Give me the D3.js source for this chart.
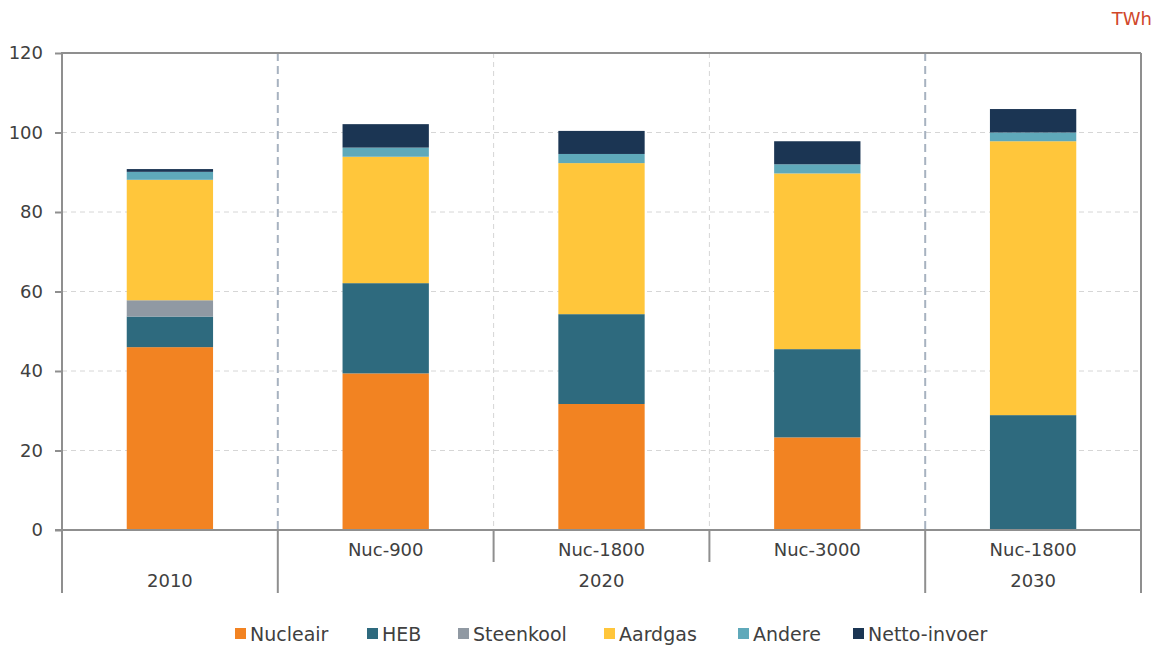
<!DOCTYPE html>
<html>
<head>
<meta charset="utf-8">
<script src="https://cdn.jsdelivr.net/npm/d3@7"></script>
<style>
  html, body { margin: 0; padding: 0; background: #fff; }
  svg { display: block; }
  text { font-family: "DejaVu Sans", sans-serif; fill: #404040; }
</style>
</head>
<body>
<svg id="chart" width="1159" height="646"></svg>
<script>
// ---- data ----
const subLabels = ["", "Nuc-900", "Nuc-1800", "Nuc-3000", "Nuc-1800"];
const groupLabels = ["2010", "2020", "2020", "2020", "2030"];
const seriesNames = ["Nucleair", "HEB", "Steenkool", "Aardgas", "Andere", "Netto-invoer"];
const nucleair    = [46.0, 39.4, 31.7, 23.3, 0];
const heb         = [7.7, 22.7, 22.6, 22.2, 28.9];
const steenkool   = [4.1, 0, 0, 0, 0];
const aardgas     = [30.3, 31.8, 38.0, 44.2, 68.9];
const andere      = [2.0, 2.3, 2.3, 2.3, 2.2];
const nettoInvoer = [0.7, 5.9, 5.8, 5.8, 5.9];
const yTicks = [0, 20, 40, 60, 80, 100, 120];
const unitLabel = "TWh";

const colors = ["#F28322", "#2E6A7E", "#9099A3", "#FFC63B", "#5FA9BA", "#1B3553"];
const seriesValues = [nucleair, heb, steenkool, aardgas, andere, nettoInvoer];

(function () {
const rows = subLabels.map((s, i) => {
  const r = { idx: i };
  seriesNames.forEach((n, k) => r[n] = seriesValues[k][i]);
  return r;
});

// ---- layout ----
const svg = d3.select("#chart");
const pLeft = 62, pRight = 1141, pTop = 53, zeroY = 530, pBottom = 593;
const axisColor = "#8f8f8f";

const x = d3.scaleBand().domain(rows.map(r => r.idx)).range([pLeft, pRight]).padding(0);
const y = d3.scaleLinear().domain([0, 120]).range([zeroY, pTop]);
const barW = x.bandwidth() * 0.4;

// horizontal grid
svg.append("g").selectAll("line").data(yTicks.filter(t => t > 0 && t < 120)).join("line")
  .attr("x1", pLeft).attr("x2", pRight)
  .attr("y1", d => y(d)).attr("y2", d => y(d))
  .attr("stroke", "#d6d6d6").attr("stroke-width", 1).attr("stroke-dasharray", "5,4");

const boundaries = d3.range(1, rows.length).map(i => ({ i, pos: x(i) }));
// vertical light grid between scenarios within same group
svg.append("g").selectAll("line")
  .data(boundaries.filter(b => groupLabels[b.i] === groupLabels[b.i - 1])).join("line")
  .attr("x1", d => d.pos).attr("x2", d => d.pos)
  .attr("y1", pTop).attr("y2", zeroY)
  .attr("stroke", "#d6d6d6").attr("stroke-width", 1).attr("stroke-dasharray", "5,4");

// group separators (dashed, darker)
svg.append("g").selectAll("line")
  .data(boundaries.filter(b => groupLabels[b.i] !== groupLabels[b.i - 1])).join("line")
  .attr("x1", d => d.pos).attr("x2", d => d.pos)
  .attr("y1", pTop).attr("y2", zeroY)
  .attr("stroke", "#a7b2c0").attr("stroke-width", 2).attr("stroke-dasharray", "8,5");

// stacked bars
const stacked = d3.stack().keys(seriesNames)(rows);
svg.append("g").selectAll("g").data(stacked).join("g")
  .attr("fill", (d, k) => colors[k])
  .selectAll("rect").data(d => d).join("rect")
  .attr("x", d => x(d.data.idx) + (x.bandwidth() - barW) / 2)
  .attr("width", barW)
  .attr("y", d => y(d[1]))
  .attr("height", d => Math.max(0, y(d[0]) - y(d[1])));

// frame: top and right border
svg.append("line").attr("x1", pLeft).attr("x2", pRight).attr("y1", pTop).attr("y2", pTop)
  .attr("stroke", axisColor).attr("stroke-width", 2);
svg.append("line").attr("x1", pRight).attr("x2", pRight).attr("y1", pTop).attr("y2", pBottom)
  .attr("stroke", axisColor).attr("stroke-width", 2);

// y axis
const yAxis = d3.axisLeft(y).tickValues(yTicks).tickSize(7).tickPadding(12);
const gy = svg.append("g").attr("transform", `translate(${pLeft},0)`).call(yAxis);
gy.select(".domain").remove();
gy.selectAll(".tick line").attr("stroke", axisColor).attr("stroke-width", 2);
gy.selectAll(".tick text").attr("font-size", 18).attr("fill", "#404040")
  .style("font-family", "DejaVu Sans, sans-serif");
svg.append("line").attr("x1", pLeft).attr("x2", pLeft).attr("y1", pTop - 1).attr("y2", pBottom)
  .attr("stroke", axisColor).attr("stroke-width", 2);

// x axis baseline
svg.append("line").attr("x1", pLeft - 7).attr("x2", pRight).attr("y1", zeroY).attr("y2", zeroY)
  .attr("stroke", axisColor).attr("stroke-width", 2);

// category boundary ticks below axis
svg.append("g").selectAll("line").data(boundaries).join("line")
  .attr("x1", d => d.pos).attr("x2", d => d.pos)
  .attr("y1", zeroY)
  .attr("y2", d => groupLabels[d.i] === groupLabels[d.i - 1] ? 562 : pBottom)
  .attr("stroke", axisColor).attr("stroke-width", 2);

// sub labels
svg.append("g").selectAll("text").data(rows).join("text")
  .attr("x", d => x(d.idx) + x.bandwidth() / 2)
  .attr("y", 556)
  .attr("text-anchor", "middle").attr("font-size", 18)
  .text(d => subLabels[d.idx]);

// group labels
const groups = d3.groups(rows, r => groupLabels[r.idx]);
svg.append("g").selectAll("text").data(groups).join("text")
  .attr("x", d => {
    const idxs = d[1].map(r => r.idx);
    return (x(d3.min(idxs)) + x(d3.max(idxs)) + x.bandwidth()) / 2;
  })
  .attr("y", 587)
  .attr("text-anchor", "middle").attr("font-size", 18)
  .text(d => d[0]);

// unit label
svg.append("text").attr("x", 1152).attr("y", 25).attr("text-anchor", "end")
  .attr("font-size", 18).style("fill", "#D0472A").text(unitLabel);

// legend
const legendX = [235, 367, 458, 604, 738, 853];
const lg = svg.append("g").selectAll("g").data(seriesNames).join("g")
  .attr("transform", (d, i) => `translate(${legendX[i]},0)`);
lg.append("rect").attr("x", 0).attr("y", 628).attr("width", 11).attr("height", 11)
  .attr("fill", (d, i) => colors[i]);
lg.append("text").attr("x", 15).attr("y", 641).attr("font-size", 19).text(d => d);
})();
</script>
</body>
</html>
